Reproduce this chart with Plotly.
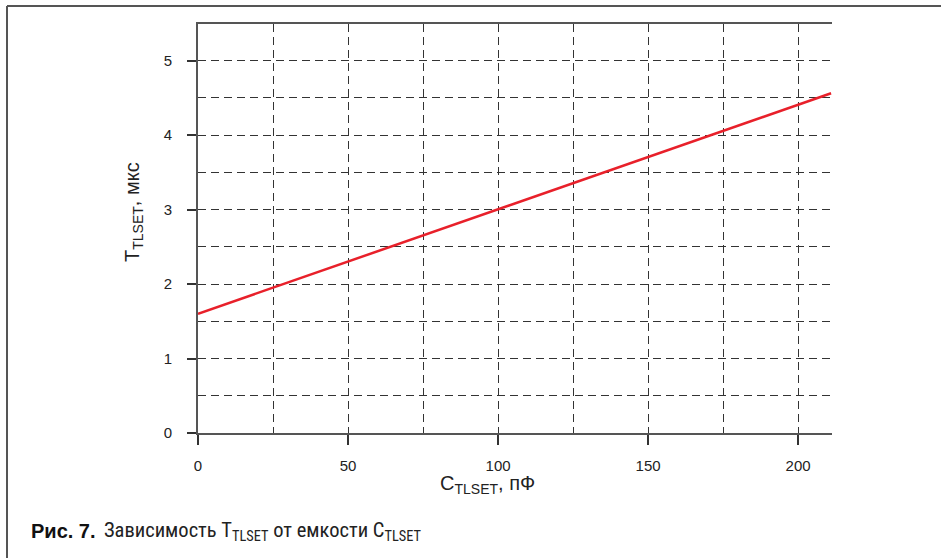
import plotly.graph_objects as go

# Data
capacitance_pf = [0, 50, 100, 150, 200, 211]
t_tlset_us = [1.6, 2.3, 3.0, 3.7, 4.4, 4.56]

x_ticks = [0, 50, 100, 150, 200]
x_tick_labels = ["0", "50", "100", "150", "200"]
y_ticks = [0, 1, 2, 3, 4, 5]
y_tick_labels = ["0", "1", "2", "3", "4", "5"]

W, H = 941, 558
L, R, T, B = 198, 832, 24, 433

def px(x):
    return (x - L) / (R - L)

def py(y):
    return (B - y) / (B - T)

fig = go.Figure()
fig.add_trace(go.Scatter(
    x=capacitance_pf, y=t_tlset_us, mode="lines",
    line=dict(color="#e8202a", width=2.5), showlegend=False, hoverinfo="skip",
))

tickfont = dict(family="Liberation Sans, Arial, sans-serif", size=15, color="#222")
grid_common = dict(gridcolor="#333", gridwidth=1.3, griddash="8px,5px")

fig.update_layout(
    width=W, height=H,
    margin=dict(l=L, r=W - R, t=T, b=H - B, pad=0),
    paper_bgcolor="white", plot_bgcolor="white",
    xaxis=dict(
        range=[0, 211.3], tickvals=x_ticks, ticktext=x_tick_labels,
        ticks="outside", ticklen=10, tickwidth=1.5, tickcolor="#333",
        showline=True, linecolor="#555", linewidth=2, mirror=True,
        showgrid=True, **grid_common,
        minor=dict(dtick=25, showgrid=True, gridcolor="#333", gridwidth=1.3,
                   griddash="8px,5px", ticks=""),
        tickfont=tickfont, ticklabelstandoff=8, zeroline=False,
    ),
    yaxis=dict(
        range=[0, 5.49], tickvals=y_ticks, ticktext=y_tick_labels,
        ticks="outside", ticklen=9, tickwidth=1.5, tickcolor="#333",
        showline=True, linecolor="#555", linewidth=2,
        showgrid=True, **grid_common,
        minor=dict(dtick=0.5, showgrid=True, gridcolor="#333", gridwidth=1.3,
                   griddash="8px,5px", ticks=""),
        tickfont=tickfont, ticklabelstandoff=12, zeroline=False,
    ),
    shapes=[
        dict(type="line", xref="paper", yref="paper", x0=px(7), x1=px(941),
             y0=py(6), y1=py(6), line=dict(color="#555", width=2)),
        dict(type="line", xref="paper", yref="paper", x0=px(7), x1=px(7),
             y0=py(6), y1=py(560), line=dict(color="#555", width=2)),
    ],
    annotations=[
        dict(text="T<sub>TLSET</sub>, мкс", xref="paper", yref="paper",
             x=px(133), y=py(212), textangle=-90, showarrow=False,
             xanchor="center", yanchor="middle",
             font=dict(family="Liberation Sans, Arial, sans-serif", size=20, color="#222")),
        dict(text="C<sub>TLSET</sub>, пФ", xref="paper", yref="paper",
             x=px(487), y=py(484), showarrow=False,
             xanchor="center", yanchor="middle",
             font=dict(family="Liberation Sans, Arial, sans-serif", size=20, color="#222")),
        dict(text="<b>Рис. 7.</b>", xref="paper", yref="paper",
             x=px(29), y=py(531), showarrow=False, xanchor="left", yanchor="middle",
             font=dict(family="Liberation Sans, Arial, sans-serif", size=20, color="#111")),
        dict(text="Зависимость T<sub>TLSET</sub> от емкости C<sub>TLSET</sub>",
             xref="paper", yref="paper",
             x=px(102), y=py(531), showarrow=False, xanchor="left", yanchor="middle",
             font=dict(family="Roboto Condensed, Roboto, sans-serif",
                       size=20.5, color="#222")),
    ],
)

fig.write_html(
    "out.html",
    config={"displayModeBar": False},
    post_script="document.body.style.margin='0';document.body.style.overflow='hidden';",
)
